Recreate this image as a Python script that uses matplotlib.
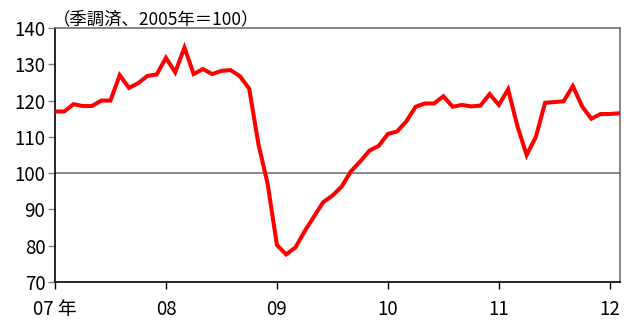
import numpy as np
import matplotlib
matplotlib.use('Agg')
import matplotlib.pyplot as plt

plt.rcParams['font.family'] = ['Noto Sans CJK JP', 'DejaVu Sans']

# monthly index, Jan 2007 - Feb 2012 (seasonally adjusted, 2005 = 100)
values = [117.0, 117.0, 119.0, 118.5, 118.5, 120.0, 120.0, 127.0, 123.5, 124.8,
          126.8, 127.2, 131.8, 127.8, 134.6, 127.3, 128.7, 127.3, 128.2, 128.4,
          126.7, 123.3, 108.0, 97.0, 80.2, 77.6, 79.5, 84.0, 88.0, 92.0,
          93.8, 96.3, 100.5, 103.2, 106.2, 107.5, 110.8, 111.5, 114.3, 118.3,
          119.2, 119.2, 121.2, 118.3, 118.8, 118.4, 118.6, 121.8, 118.8, 123.1,
          113.0, 105.0, 110.0, 119.4, 119.6, 119.8, 124.0, 118.4, 115.0, 116.3,
          116.3, 116.5]
year_labels = ['07 年', '08', '09', '10', '11', '12']
yticks = [70, 80, 90, 100, 110, 120, 130, 140]

months = np.arange(len(values))

fig = plt.figure(figsize=(6.24, 3.25), dpi=100)
ax = fig.add_axes([0.0881, 0.1323, 0.9055, 0.7815])

ax.axhline(100, color='#808080', lw=1.3, zorder=1)
ax.plot(months, values, color='#ff0000', lw=2.9, solid_joinstyle='miter', zorder=3)

ax.set_xlim(0, 61.1)
ax.set_ylim(70, 140)
ax.set_xticks(np.arange(0, 61, 12))
ax.set_xticklabels(year_labels, fontsize=13.5)
ax.set_yticks(yticks)
ax.set_yticklabels([str(v) for v in yticks], fontsize=13.5)
ax.tick_params(axis='x', direction='out', length=5, width=1, color='black', pad=7)
ax.tick_params(axis='y', direction='out', length=5, width=1, color='#808080', pad=2)

ax.spines['left'].set_color('black')
ax.spines['bottom'].set_color('black')
ax.spines['top'].set_color('#707070')
ax.spines['right'].set_color('#707070')
for s in ax.spines.values():
    s.set_linewidth(1.2)

fig.text(0.085, 0.925, '（季調済、2005年＝100）', fontsize=12.5, ha='left', va='baseline')

fig.savefig('out.png', dpi=100)
